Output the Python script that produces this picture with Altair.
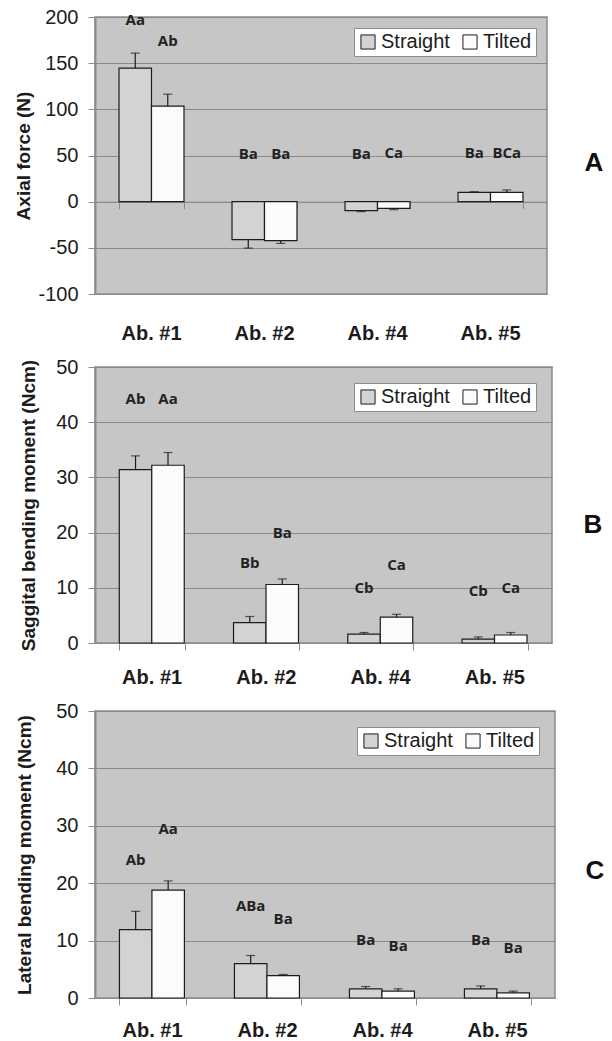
import altair as alt
import pandas as pd

cats = ["Ab. #1", "Ab. #2", "Ab. #4", "Ab. #5"]
groups = ["Straight", "Tilted"]

# Panel A - Axial force (N)
a_straight = [144.6, -41.2, -9.8, 10.1]
a_straight_err = [160.9, -50.3, -10.8, 10.8]
a_tilted = [103.4, -42.3, -7.2, 10.1]
a_tilted_err = [116.4, -45.2, -8.7, 12.7]
a_lab_straight = ["Aa", "Ba", "Ba", "Ba"]
a_lab_tilted = ["Ab", "Ba", "Ca", "BCa"]
a_laby_straight = [197, 51.7, 52, 52.5]
a_laby_tilted = [174, 51.7, 53, 53]

# Panel B - Saggital bending moment (Ncm)
b_straight = [31.4, 3.7, 1.6, 0.7]
b_straight_err = [33.9, 4.8, 1.9, 1.1]
b_tilted = [32.2, 10.6, 4.7, 1.45]
b_tilted_err = [34.5, 11.6, 5.2, 1.9]
b_lab_straight = ["Ab", "Bb", "Cb", "Cb"]
b_lab_tilted = ["Aa", "Ba", "Ca", "Ca"]
b_laby_straight = [44.2, 14.5, 9.9, 9.5]
b_laby_tilted = [44.2, 19.9, 14.2, 9.9]

# Panel C - Lateral bending moment (Ncm)
c_straight = [11.9, 6.0, 1.6, 1.6]
c_straight_err = [15.1, 7.4, 2.0, 2.1]
c_tilted = [18.8, 3.9, 1.2, 0.9]
c_tilted_err = [20.4, 4.1, 1.6, 1.2]
c_lab_straight = ["Ab", "ABa", "Ba", "Ba"]
c_lab_tilted = ["Aa", "Ba", "Ba", "Ba"]
c_laby_straight = [24.0, 16.0, 10.1, 10.1]
c_laby_tilted = [29.5, 13.7, 9.1, 8.7]

FONT = "Liberation Sans"
GRID = "#8a8a8a"
INK = "#1c1c1c"


def make_df(s, se, t, te, ls, lt, ys, yt):
    rows = []
    for i, c in enumerate(cats):
        rows.append(dict(cat=c, group="Straight", value=s[i], err=se[i], lab=ls[i], laby=ys[i]))
        rows.append(dict(cat=c, group="Tilted", value=t[i], err=te[i], lab=lt[i], laby=yt[i]))
    return pd.DataFrame(rows)


def panel(df, width, height, ydom, yvals, ytitle, tpad, loff, lpad, letter, letter_dx, letter_y):
    zero_px = height * ydom[1] / (ydom[1] - ydom[0])
    tick_off = -(height - zero_px)
    xscale = alt.Scale(domain=cats, paddingInner=0.425, paddingOuter=0.2125)
    xoff = alt.XOffset("group:N", scale=alt.Scale(domain=groups, paddingInner=0, paddingOuter=0))
    yscale = alt.Scale(domain=ydom, nice=False, zero=False)
    yaxis = alt.Axis(
        values=yvals, grid=True, gridColor=GRID, gridWidth=1,
        domain=True, domainColor="#8c8c8c", domainWidth=2,
        ticks=True, tickColor="#8c8c8c", tickSize=7, tickWidth=1,
        labelFont=FONT, labelFontSize=20, labelColor=INK, labelPadding=10,
        labelExpr="datum.value + ''",
        titleFont=FONT, titleFontSize=19, titleFontWeight="bold", titleColor=INK,
        titlePadding=tpad,
    )
    base = alt.Chart(df)
    label_axis = alt.Axis(
        domain=False, ticks=False, tickSize=0, grid=False, labelAngle=0,
        labelFont=FONT, labelFontSize=20, labelFontWeight="bold", labelColor=INK,
        labelPadding=lpad, orient="bottom",
    )
    tick_axis = alt.Axis(
        labels=False, domain=True, domainColor="#8c8c8c", domainWidth=1,
        ticks=True, tickBand="extent", tickSize=7, tickColor="#8c8c8c", tickWidth=1,
        grid=False, offset=tick_off, orient="bottom",
    )
    bars = base.mark_bar(stroke=INK, strokeWidth=1.2).encode(
        x=alt.X("cat:N", scale=xscale, title=None, axis=label_axis),
        xOffset=xoff,
        y=alt.Y("value:Q", scale=yscale, title=ytitle, axis=yaxis),
        y2=alt.datum(0),
        color=alt.Color(
            "group:N",
            scale=alt.Scale(domain=groups, range=["#d3d3d3", "#fbfbfb"]),
            legend=alt.Legend(
                title=None, orient="top-right", offset=loff, direction="horizontal",
                fillColor="white", strokeColor="#8c8c8c", padding=4,
                labelFont=FONT, labelFontSize=20, labelColor=INK, labelOffset=3,
                symbolType="square", symbolSize=200, symbolStrokeColor=INK,
                symbolStrokeWidth=1, columnPadding=10,
            ),
        ),
    )
    err = base.mark_rule(color=INK, strokeWidth=1.2).encode(
        x=alt.X("cat:N", scale=xscale, title=None, axis=tick_axis),
        xOffset=xoff,
        y=alt.Y("value:Q", scale=yscale, title=ytitle, axis=yaxis),
        y2="err:Q",
    )
    caps = base.mark_tick(color=INK, orient="horizontal", size=9, thickness=1.2).encode(
        x=alt.X("cat:N", scale=xscale, title=None, axis=None),
        xOffset=xoff,
        y=alt.Y("err:Q", scale=yscale, title=ytitle, axis=yaxis),
    )
    texts = base.mark_text(font="Open Sans", fontWeight="bold", fontSize=15,
                           color="#222222", baseline="middle").encode(
        x=alt.X("cat:N", scale=xscale, title=None, axis=None),
        xOffset=xoff,
        y=alt.Y("laby:Q", scale=yscale, title=ytitle, axis=yaxis),
        text="lab:N",
    )
    let = alt.Chart(pd.DataFrame({"letter": [letter]})).mark_text(
        font=FONT, fontSize=26, fontWeight="bold", color="#111111",
        align="center", baseline="middle",
    ).encode(x=alt.value(width + letter_dx), y=alt.value(letter_y), text="letter:N")
    return alt.layer(bars, err, caps, texts, let).resolve_axis(x="independent").properties(
        width=width, height=height
    )


dfA = make_df(a_straight, a_straight_err, a_tilted, a_tilted_err,
              a_lab_straight, a_lab_tilted, a_laby_straight, a_laby_tilted)
dfB = make_df(b_straight, b_straight_err, b_tilted, b_tilted_err,
              b_lab_straight, b_lab_tilted, b_laby_straight, b_laby_tilted)
dfC = make_df(c_straight, c_straight_err, c_tilted, c_tilted_err,
              c_lab_straight, c_lab_tilted, c_laby_straight, c_laby_tilted)

pA = panel(dfA, 452, 277, [-100, 200], [-100, -50, 0, 50, 100, 150, 200],
           "Axial force (N)", 4, 11, 29, "A", 47, 146)
pB = panel(dfB, 457, 276, [0, 50], [0, 10, 20, 30, 40, 50],
           "Saggital bending moment (Ncm)", 17, 16, 24, "B", 41, 158)
pC = panel(dfC, 460, 287, [0, 50], [0, 10, 20, 30, 40, 50],
           "Lateral bending moment (Ncm)", 21, 16, 22, "C", 40, 160)

chart = alt.concat(pA, pB, pC, columns=1, spacing=12, align="none").resolve_legend(
    color="independent"
).resolve_scale(color="independent").configure(
    padding={"left": 14, "top": 6, "right": 0, "bottom": 0},
    background="white",
).configure_view(fill="#c6c6c6", stroke="#8c8c8c", strokeWidth=1.5)

chart.save("out.html", embed_options={"renderer": "svg", "actions": False})
